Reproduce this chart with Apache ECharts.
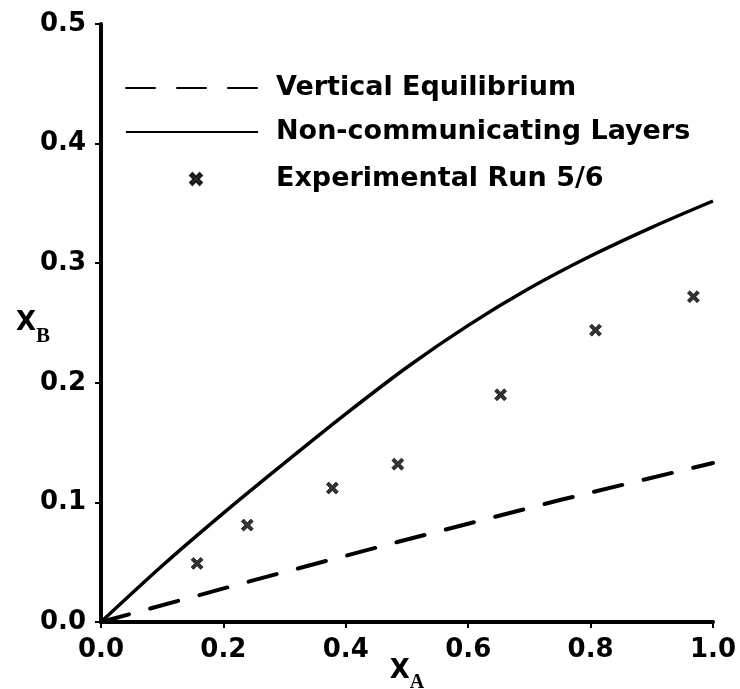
<!DOCTYPE html>
<html>
<head>
<meta charset="utf-8">
<script src="https://cdn.jsdelivr.net/npm/echarts@6/dist/echarts.min.js"></script>
<style>
  html, body { margin: 0; padding: 0; background: #fff; }
  #chart { width: 740px; height: 689px; }
</style>
</head>
<body>
<div id="chart"></div>
<script>
// Axis ticks
const xTicks = [0, 0.2, 0.4, 0.6, 0.8, 1.0];
const yTicks = [0, 0.1, 0.2, 0.3, 0.4, 0.5];

// Vertical equilibrium prediction (dashed)
const equilX = [0, 0.25, 0.5, 0.75, 1.0];
const equilY = [0, 0.035, 0.069, 0.102, 0.133];

// Non-communicating layers prediction (solid)
const layersX = [0, 0.1, 0.2, 0.3, 0.4, 0.5, 0.6, 0.7, 0.8, 0.9, 1.0];
const layersY = [0, 0.047, 0.091, 0.133, 0.174, 0.213, 0.248, 0.279, 0.306, 0.330, 0.352];

// Experimental run 5/6
const expX = [0.157, 0.239, 0.378, 0.485, 0.653, 0.808, 0.968];
const expY = [0.049, 0.081, 0.112, 0.132, 0.190, 0.244, 0.272];

const FONT = 'DejaVu Sans';
const crossPath = 'path://M0,2 L2,0 L5,3 L8,0 L10,2 L7,5 L10,8 L8,10 L5,7 L2,10 L0,8 L3,5 Z';

const pairs = (xs, ys) => xs.map((x, i) => [x, ys[i]]);

const legendText = {
  fontFamily: FONT, fontWeight: 'bold', fontSize: 27, color: '#000', lineHeight: 30
};

const chart = echarts.init(document.getElementById('chart'), null, { renderer: 'canvas' });

chart.setOption({
  backgroundColor: '#fff',
  animation: false,
  grid: { left: 101, right: 27, top: 24, bottom: 67, containLabel: false, outerBoundsMode: 'none' },
  legend: [
    {
      data: ['Vertical Equilibrium'], orient: 'vertical', left: 125, top: 73, padding: 0,
      itemWidth: 132, itemHeight: 4, selectedMode: false,
      itemStyle: { opacity: 0 },
      textStyle: Object.assign({ padding: [0, 0, 0, 13] }, legendText)
    },
    {
      data: ['Non-communicating Layers'], orient: 'vertical', left: 125, top: 117, padding: 0,
      itemWidth: 132, itemHeight: 4, selectedMode: false,
      itemStyle: { opacity: 0 },
      textStyle: Object.assign({ padding: [0, 0, 0, 13] }, legendText)
    },
    {
      data: ['Experimental Run 5/6'], orient: 'vertical', left: 189, top: 164, padding: 0,
      itemWidth: 12, itemHeight: 12, selectedMode: false,
      textStyle: Object.assign({ padding: [0, 0, 0, 69] }, legendText)
    }
  ],
  xAxis: {
    type: 'value', min: xTicks[0], max: xTicks[xTicks.length - 1], interval: 0.2,
    splitLine: { show: false },
    axisLine: { lineStyle: { color: '#000', width: 4 } },
    axisTick: { length: 6, lineStyle: { color: '#000', width: 2 } },
    axisLabel: {
      margin: 15, fontFamily: FONT, fontWeight: 'bold', fontSize: 26, color: '#000',
      formatter: v => v.toFixed(1)
    },
    name: '{x|X}{s|A}',
    nameLocation: 'middle',
    nameGap: 27,
    nameMoveOverlap: false,
    nameTextStyle: {
      rich: {
        x: { fontFamily: FONT, fontWeight: 'bold', fontSize: 26, color: '#000' },
        s: { fontFamily: 'Liberation Serif', fontWeight: 'bold', fontSize: 20, color: '#000', padding: [24, 0, 0, 0] }
      }
    }
  },
  yAxis: {
    type: 'value', min: yTicks[0], max: yTicks[yTicks.length - 1], interval: 0.1,
    splitLine: { show: false },
    axisLine: { show: true, lineStyle: { color: '#000', width: 4 } },
    axisTick: { show: true, length: 6, lineStyle: { color: '#000', width: 2 } },
    axisLabel: {
      margin: 15, fontFamily: FONT, fontWeight: 'bold', fontSize: 26, color: '#000',
      formatter: v => v.toFixed(1)
    },
    name: '{x|X}{s|B}',
    nameLocation: 'middle',
    nameRotate: 0,
    nameGap: 51,
    nameMoveOverlap: false,
    nameTextStyle: {
      rich: {
        x: { fontFamily: FONT, fontWeight: 'bold', fontSize: 26, color: '#000' },
        s: { fontFamily: 'Liberation Serif', fontWeight: 'bold', fontSize: 21, color: '#000', padding: [28, 0, 0, 0] }
      }
    }
  },
  series: [
    {
      name: 'Vertical Equilibrium', type: 'line', symbol: 'none',
      data: pairs(equilX, equilY),
      lineStyle: { color: '#000', width: 4, type: [29, 22], cap: 'round' },
      itemStyle: { color: '#000' }
    },
    {
      name: 'Non-communicating Layers', type: 'line', symbol: 'none', smooth: 0.3,
      data: pairs(layersX, layersY),
      lineStyle: { color: '#000', width: 3.5 },
      itemStyle: { color: '#000' }
    },
    {
      name: 'Experimental Run 5/6', type: 'scatter',
      symbol: crossPath, symbolSize: 12,
      data: pairs(expX, expY),
      itemStyle: { color: '#000', borderColor: '#000', borderWidth: 0.8 }
    }
  ]
});
</script>
</body>
</html>
